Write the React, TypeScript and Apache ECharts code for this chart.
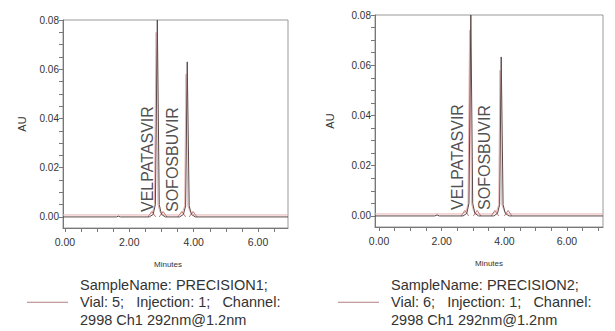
import React, { useEffect, useRef } from "react";
import * as echarts from "echarts";

// ---- axis ticks / labels ----
const xLabelValues = [0, 2, 4, 6];
const xTickValues = [0, 0.5, 1, 1.5, 2, 2.5, 3, 3.5, 4, 4.5, 5, 5.5, 6, 6.5, 7];
const yLabelValues = [0, 0.02, 0.04, 0.06, 0.08];
const yTickValues = [0, 0.005, 0.01, 0.015, 0.02, 0.025, 0.03, 0.035, 0.04, 0.045, 0.05, 0.055, 0.06, 0.065, 0.07, 0.075, 0.08];

// ---- legend texts ----
const leftSample = "SampleName: PRECISION1;\nVial: 5;   Injection: 1;   Channel:\n2998 Ch1 292nm@1.2nm";
const rightSample = "SampleName: PRECISION2;\nVial: 6;   Injection: 1;   Channel:\n2998 Ch1 292nm@1.2nm";

// ---- peak labels [minutes, AU, name] ----
const leftPeakLabels: [number, number, string][] = [
  [2.55, 0.002, "VELPATASVIR"],
  [3.33, 0.002, "SOFOSBUVIR"],
];
const rightPeakLabels: [number, number, string][] = [
  [2.49, 0.0024, "VELPATASVIR"],
  [3.38, 0.0024, "SOFOSBUVIR"],
];

// ---- chromatogram traces [minutes, AU] ----
const leftTrace: [number, number][] = [
  [-0.06, 0], [1.60, 0], [1.66, 0.0003], [1.72, 0], [2.62, 0], [2.74, 0.001], [2.81, 0.005],
  [2.87, 0.08], [2.93, 0.005], [3.0, 0.001], [3.12, 0], [3.56, 0], [3.68, 0.001], [3.75, 0.0045],
  [3.80, 0.063], [3.86, 0.0045], [3.93, 0.001], [4.05, 0], [6.93, 0],
];
const leftOverlay: [number, number][] = [
  [-0.06, 0.0008], [2.6, 0.0008], [2.72, 0.0018], [2.78, 0.005], [2.83, 0.075], [2.89, 0.005],
  [2.96, 0.0018], [3.08, 0.0008], [3.54, 0.0008], [3.65, 0.0018], [3.72, 0.0045], [3.76, 0.058],
  [3.82, 0.0045], [3.9, 0.0018], [4.02, 0.0008], [6.93, 0.0008],
];
const leftMarkers: any[] = [
  [2.58, 0], [2.70, 0.0022], [2.82, 0], [2.82, "-"],
  [2.93, 0], [3.05, 0.0022], [3.17, 0], [3.17, "-"],
  [3.51, 0], [3.63, 0.0022], [3.75, 0], [3.75, "-"],
  [3.86, 0], [3.98, 0.0022], [4.10, 0],
];

const rightTrace: [number, number][] = [
  [-0.13, 0], [1.78, 0], [1.85, 0.0004], [1.92, 0], [2.68, 0], [2.80, 0.001], [2.87, 0.005],
  [2.93, 0.08], [2.99, 0.005], [3.06, 0.001], [3.18, 0], [3.66, 0], [3.78, 0.001], [3.85, 0.0045],
  [3.90, 0.0633], [3.96, 0.0045], [4.03, 0.001], [4.15, 0], [7.15, 0],
];
const rightOverlay: [number, number][] = [
  [-0.13, 0.0008], [2.66, 0.0008], [2.78, 0.0018], [2.84, 0.005], [2.89, 0.074], [2.95, 0.005],
  [3.02, 0.0018], [3.14, 0.0008], [3.64, 0.0008], [3.75, 0.0018], [3.82, 0.0045], [3.86, 0.058],
  [3.92, 0.0045], [4.0, 0.0018], [4.12, 0.0008], [7.15, 0.0008],
];
const rightMarkers: any[] = [
  [2.62, 0], [2.74, 0.0022], [2.86, 0], [2.86, "-"],
  [3.01, 0], [3.13, 0.0022], [3.25, 0], [3.25, "-"],
  [3.58, 0], [3.70, 0.0022], [3.82, 0], [3.82, "-"],
  [4.00, 0], [4.12, 0.0022], [4.24, 0],
];

const FONT = "'Liberation Sans', Arial, sans-serif";
const TEXT = "#333";
const AXIS = "#777";

function xAxisFor(gridIndex: number, min: number, max: number, namePad: number[]) {
  return {
    type: "value",
    gridIndex,
    min,
    max,
    position: "bottom",
    name: "Minutes",
    nameLocation: "middle",
    nameGap: 32,
    nameTextStyle: { fontSize: 8, color: TEXT, fontFamily: FONT, padding: namePad },
    axisLine: { show: true, onZero: false, lineStyle: { color: AXIS, width: 1 } },
    axisTick: { show: true, customValues: xTickValues, length: 4, lineStyle: { color: AXIS } },
    axisLabel: {
      show: true,
      customValues: xLabelValues,
      formatter: (v: number) => v.toFixed(2),
      fontSize: 10.5,
      color: TEXT,
      fontFamily: FONT,
      margin: 8,
    },
    splitLine: { show: false },
  };
}

function yAxisFor(gridIndex: number, min: number, nameGap: number) {
  return {
    type: "value",
    gridIndex,
    min,
    max: 0.08,
    name: "AU",
    nameLocation: "middle",
    nameGap,
    nameTextStyle: { fontSize: 11, color: TEXT, fontFamily: FONT },
    axisLine: { show: true, onZero: false, lineStyle: { color: AXIS, width: 1 } },
    axisTick: { show: true, customValues: yTickValues, length: 4, lineStyle: { color: AXIS } },
    axisLabel: {
      show: true,
      customValues: yLabelValues,
      formatter: (v: number) => v.toFixed(2),
      fontSize: 10,
      color: TEXT,
      fontFamily: FONT,
      margin: 4,
    },
    splitLine: { show: false },
  };
}

function lineSeries(name: string, data: any[], idx: number, color: string, z: number) {
  return {
    type: "line",
    name,
    data,
    xAxisIndex: idx,
    yAxisIndex: idx,
    showSymbol: false,
    symbol: "none",
    connectNulls: false,
    lineStyle: { color, width: 1 },
    itemStyle: { color },
    z,
  };
}

function labelSeries(name: string, data: any[], idx: number) {
  return {
    type: "scatter",
    name,
    data,
    xAxisIndex: idx,
    yAxisIndex: idx,
    symbolSize: 0,
    silent: true,
    label: {
      show: true,
      position: [0, 0],
      rotate: 90,
      align: "left",
      verticalAlign: "middle",
      formatter: (p: any) => p.data[2],
      fontSize: 16,
      color: "#222",
      fontFamily: FONT,
    },
    z: 5,
  };
}

function legendFor(name: string, left: number) {
  return {
    show: true,
    left,
    top: 276,
    padding: 0,
    orient: "vertical",
    itemWidth: 41,
    itemHeight: 1,
    icon: "rect",
    data: [{ name, itemStyle: { color: "#b08080" } }],
    textStyle: {
      fontSize: 14.5,
      lineHeight: 17.5,
      color: TEXT,
      fontFamily: FONT,
      padding: [0, 0, 0, 7],
    },
    selectedMode: false,
  };
}

export default function App() {
  const ref = useRef<HTMLDivElement>(null);
  useEffect(() => {
    if (!ref.current) return;
    const chart = echarts.init(ref.current, null, { renderer: "svg" });
    chart.setOption({
      animation: false,
      backgroundColor: "#fff",
      grid: [
        { left: 63, top: 20, width: 225, height: 208, show: true, borderColor: "#999", borderWidth: 1 },
        { left: 375, top: 15, width: 228, height: 212, show: true, borderColor: "#999", borderWidth: 1 },
      ],
      xAxis: [xAxisFor(0, -0.06, 6.93, [0, 15, 0, 0]), xAxisFor(1, -0.13, 7.15, [0, 0, 0, 0])],
      yAxis: [yAxisFor(0, -0.0045, 36), yAxisFor(1, -0.0044, 40)],
      legend: [legendFor(leftSample, 27), legendFor(rightSample, 338)],
      series: [
        lineSeries("left overlay", leftOverlay, 0, "#eab0b0", 2),
        lineSeries("left markers", leftMarkers, 0, "#c07878", 3),
        lineSeries(leftSample, leftTrace, 0, "#5c4848", 4),
        labelSeries("left labels", leftPeakLabels, 0),
        lineSeries("right overlay", rightOverlay, 1, "#eab0b0", 2),
        lineSeries("right markers", rightMarkers, 1, "#c07878", 3),
        lineSeries(rightSample, rightTrace, 1, "#5c4848", 4),
        labelSeries("right labels", rightPeakLabels, 1),
      ],
    });
    return () => chart.dispose();
  }, []);
  return (
    <div
      ref={ref}
      style={{ position: "fixed", left: 0, top: 0, width: 615, height: 331, background: "#fff" }}
    />
  );
}
